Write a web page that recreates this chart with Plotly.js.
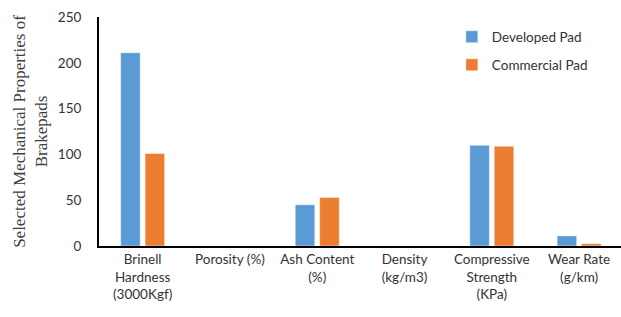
<!DOCTYPE html>
<html>
<head>
<meta charset="utf-8">
<script src="https://cdn.plot.ly/plotly-3.0.1.min.js"></script>
<style>html,body{margin:0;padding:0;background:#fff;}#chart{width:621px;height:317px;}</style>
</head>
<body>
<div id="chart"></div>
<script>
const categories = ["Brinell<br>Hardness<br>(3000Kgf)", "Porosity (%)", "Ash Content<br>(%)", "Density<br>(kg/m3)", "Compressive<br>Strength<br>(KPa)", "Wear Rate<br>(g/km)"];
const developedPad = [211, 0, 45, 0, 110, 11];
const commercialPad = [101, 0, 53, 0, 109, 2.5];
const yTicks = [0, 50, 100, 150, 200, 250];

const tickFont = {family: "Lato, 'Open Sans', sans-serif", size: 13.5, color: "#333333"};
const idx = categories.map((c, i) => i);

const traces = [
  {type: "bar", name: "Developed Pad", x: idx, y: developedPad,
   marker: {color: "#5B9BD5", line: {color: "rgba(255,255,255,0.45)", width: 1}}, legend: "legend"},
  {type: "bar", name: "Commercial Pad", x: idx, y: commercialPad,
   marker: {color: "#ED7D31", line: {color: "rgba(255,255,255,0.45)", width: 1}}, legend: "legend2"}
];

const layout = {
  width: 621, height: 317,
  margin: {l: 99, r: 0, t: 17, b: 71, pad: 0},
  paper_bgcolor: "#fff", plot_bgcolor: "#fff",
  barmode: "group", bargap: 0.44, bargroupgap: 0.2,
  showlegend: true,
  xaxis: {
    range: [-0.5, 5.48], tickvals: idx, ticktext: categories,
    showgrid: false, zeroline: false, showline: true, linecolor: "#000", linewidth: 2,
    ticks: "", tickfont: tickFont, tickangle: 0, automargin: false
  },
  yaxis: {
    range: [0, 250], tickvals: yTicks, ticktext: yTicks.map(String),
    showgrid: false, zeroline: false, showline: true, linecolor: "#000", linewidth: 2,
    ticks: "", tickfont: tickFont, ticklabelstandoff: 13, automargin: false,
    title: {text: "Selected Mechanical Properties of<br>Brakepads", standoff: 6,
            font: {family: "'Times New Roman', 'Liberation Serif', serif", size: 17, color: "#404040"}}
  },
  legend: {x: 0.676, y: 0.913, xanchor: "left", yanchor: "middle", bgcolor: "rgba(0,0,0,0)",
           font: tickFont},
  legend2: {x: 0.676, y: 0.79, xanchor: "left", yanchor: "middle", bgcolor: "rgba(0,0,0,0)",
            font: tickFont}
};

Plotly.newPlot("chart", traces, layout, {displayModeBar: false, staticPlot: true});
</script>
</body>
</html>
